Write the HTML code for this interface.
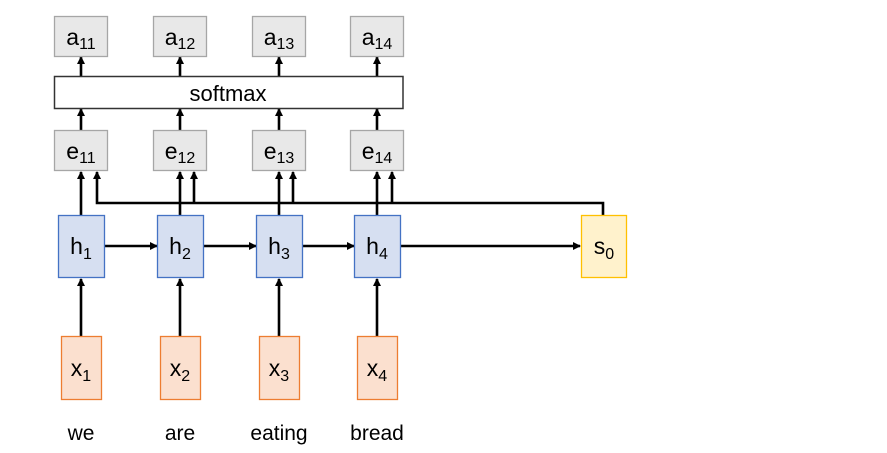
<!DOCTYPE html>
<html><head><meta charset="utf-8"><style>
html,body{margin:0;padding:0;background:#fff;}
svg{display:block;}
text{font-family:"Liberation Sans",sans-serif;fill:#000;}
</style></head><body>
<svg width="887" height="453" viewBox="0 0 887 453" xmlns="http://www.w3.org/2000/svg">
<defs>
<marker id="ah" markerWidth="8" markerHeight="8" refX="7" refY="4" orient="auto" markerUnits="userSpaceOnUse">
<path d="M0,0 L8,4 L0,8 z" fill="#000"/>
</marker>
</defs>
<g stroke="#000" stroke-width="2.6" fill="none">
<line x1="81" y1="76" x2="81" y2="57" marker-end="url(#ah)"/>
<line x1="180" y1="76" x2="180" y2="57" marker-end="url(#ah)"/>
<line x1="279" y1="76" x2="279" y2="57" marker-end="url(#ah)"/>
<line x1="377" y1="76" x2="377" y2="57" marker-end="url(#ah)"/>
<line x1="81" y1="130" x2="81" y2="109" marker-end="url(#ah)"/>
<line x1="180" y1="130" x2="180" y2="109" marker-end="url(#ah)"/>
<line x1="279" y1="130" x2="279" y2="109" marker-end="url(#ah)"/>
<line x1="377" y1="130" x2="377" y2="109" marker-end="url(#ah)"/>
<line x1="81" y1="215" x2="81" y2="172" marker-end="url(#ah)"/>
<line x1="180" y1="215" x2="180" y2="172" marker-end="url(#ah)"/>
<line x1="279" y1="215" x2="279" y2="172" marker-end="url(#ah)"/>
<line x1="377" y1="215" x2="377" y2="172" marker-end="url(#ah)"/>
<polyline points="603,215 603,203 97,203 97,172" marker-end="url(#ah)"/>
<line x1="194" y1="203" x2="194" y2="172" marker-end="url(#ah)"/>
<line x1="293" y1="203" x2="293" y2="172" marker-end="url(#ah)"/>
<line x1="392" y1="203" x2="392" y2="172" marker-end="url(#ah)"/>
<line x1="104" y1="246" x2="157" y2="246" marker-end="url(#ah)"/>
<line x1="203" y1="246" x2="256" y2="246" marker-end="url(#ah)"/>
<line x1="302" y1="246" x2="354" y2="246" marker-end="url(#ah)"/>
<line x1="400" y1="246" x2="580" y2="246" marker-end="url(#ah)"/>
<line x1="81" y1="336" x2="81" y2="279" marker-end="url(#ah)"/>
<line x1="180" y1="336" x2="180" y2="279" marker-end="url(#ah)"/>
<line x1="279" y1="336" x2="279" y2="279" marker-end="url(#ah)"/>
<line x1="377" y1="336" x2="377" y2="279" marker-end="url(#ah)"/>
</g>
<g fill="#e8e8e8" stroke="#a6a6a6" stroke-width="1.3">
<rect x="54.5" y="16.5" width="53" height="40"/>
<rect x="153.5" y="16.5" width="53" height="40"/>
<rect x="252.5" y="16.5" width="53" height="40"/>
<rect x="350.5" y="16.5" width="53" height="40"/>
<rect x="54.5" y="130.5" width="53" height="40"/>
<rect x="153.5" y="130.5" width="53" height="40"/>
<rect x="252.5" y="130.5" width="53" height="40"/>
<rect x="350.5" y="130.5" width="53" height="40"/>
</g>
<rect x="54.5" y="76.5" width="348.5" height="32" fill="#fff" stroke="#333" stroke-width="1.5"/>
<g fill="#d6dff1" stroke="#4472c4" stroke-width="1.3">
<rect x="58.5" y="215.5" width="46" height="62"/>
<rect x="157.5" y="215.5" width="46" height="62"/>
<rect x="256.5" y="215.5" width="46" height="62"/>
<rect x="354.5" y="215.5" width="46" height="62"/>
</g>
<rect x="581.5" y="215.5" width="45" height="62" fill="#fff2cc" stroke="#ffc000" stroke-width="1.3"/>
<g fill="#fbe0cf" stroke="#ed7d31" stroke-width="1.3">
<rect x="61.5" y="336.5" width="40" height="63"/>
<rect x="160.5" y="336.5" width="40" height="63"/>
<rect x="259.5" y="336.5" width="40" height="63"/>
<rect x="357.5" y="336.5" width="40" height="63"/>
</g>
<g font-size="23" text-anchor="middle">
<text x="81" y="45">a<tspan font-size="16" dy="4">11</tspan></text>
<text x="180" y="45">a<tspan font-size="16" dy="4">12</tspan></text>
<text x="279" y="45">a<tspan font-size="16" dy="4">13</tspan></text>
<text x="377" y="45">a<tspan font-size="16" dy="4">14</tspan></text>
<text x="228" y="101" font-size="22">softmax</text>
<text x="81" y="159">e<tspan font-size="16" dy="4">11</tspan></text>
<text x="180" y="159">e<tspan font-size="16" dy="4">12</tspan></text>
<text x="279" y="159">e<tspan font-size="16" dy="4">13</tspan></text>
<text x="377" y="159">e<tspan font-size="16" dy="4">14</tspan></text>
<text x="81" y="254">h<tspan font-size="16" dy="5">1</tspan></text>
<text x="180" y="254">h<tspan font-size="16" dy="5">2</tspan></text>
<text x="279" y="254">h<tspan font-size="16" dy="5">3</tspan></text>
<text x="377" y="254">h<tspan font-size="16" dy="5">4</tspan></text>
<text x="604" y="254">s<tspan font-size="16" dy="5">0</tspan></text>
<text x="81" y="376">x<tspan font-size="16" dy="5">1</tspan></text>
<text x="180" y="376">x<tspan font-size="16" dy="5">2</tspan></text>
<text x="279" y="376">x<tspan font-size="16" dy="5">3</tspan></text>
<text x="377" y="376">x<tspan font-size="16" dy="5">4</tspan></text>
<text x="81" y="440" font-size="21">we</text>
<text x="180" y="440" font-size="21">are</text>
<text x="279" y="440" font-size="21">eating</text>
<text x="377" y="440" font-size="21">bread</text>
</g>
</svg>
</body></html>
